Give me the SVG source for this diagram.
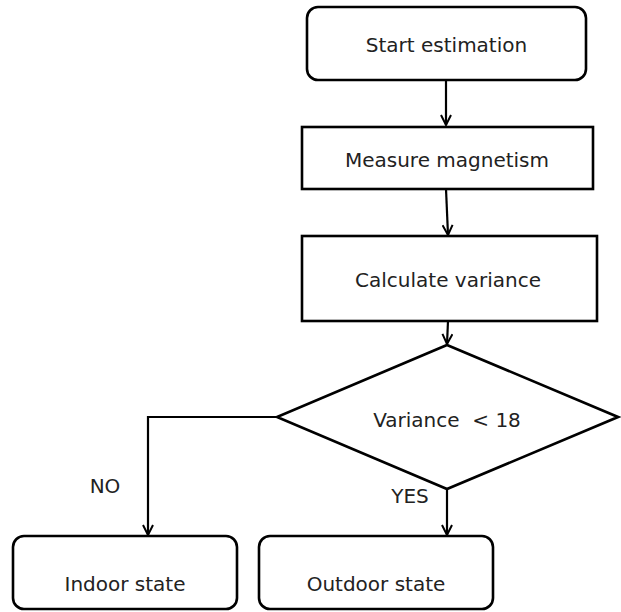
<svg xmlns="http://www.w3.org/2000/svg" width="621" height="612" viewBox="0 0 621 612">
<defs>
<style>
.box{fill:#fff;stroke:#000;stroke-width:2.6}
.lbl{font-family:"DejaVu Sans","Liberation Sans",sans-serif;font-size:20px;fill:#222;text-anchor:middle}
.con{fill:none;stroke:#000;stroke-width:2.2}
</style>
<marker id="arr" viewBox="0 0 12 12" refX="11" refY="6" markerWidth="12" markerHeight="12" markerUnits="userSpaceOnUse" orient="auto">
<path d="M1,1 L11,6 L1,11" fill="none" stroke="#000" stroke-width="2"/>
</marker>
</defs>
<rect width="621" height="612" fill="#fff"/>
<g id="connectors">
<line class="con" x1="446" y1="80" x2="446" y2="125" marker-end="url(#arr)"/>
<line class="con" x1="446" y1="189" x2="448" y2="235" marker-end="url(#arr)"/>
<line class="con" x1="448" y1="321" x2="447" y2="344" marker-end="url(#arr)"/>
<polyline class="con" points="277,417 148,417 148,535" marker-end="url(#arr)"/>
<line class="con" x1="447" y1="489" x2="447" y2="535" marker-end="url(#arr)"/>
<text class="lbl" x="105" y="493">NO</text>
<text class="lbl" x="410" y="503">YES</text>
</g>
<g id="start">
<rect class="box" x="307" y="7" width="279" height="73" rx="11"/>
<text class="lbl" x="446.5" y="52">Start estimation</text>
</g>
<g id="measure">
<rect class="box" x="302" y="127" width="291" height="62"/>
<text class="lbl" x="447" y="167">Measure magnetism</text>
</g>
<g id="calculate">
<rect class="box" x="302" y="236" width="295" height="85"/>
<text class="lbl" x="448" y="287">Calculate variance</text>
</g>
<g id="decision">
<polygon class="box" points="447,345 618,417 447,489 277,417"/>
<text class="lbl" x="447" y="427" xml:space="preserve">Variance  &lt; 18</text>
</g>
<g id="indoor">
<rect class="box" x="13" y="536" width="224" height="73" rx="11"/>
<text class="lbl" x="125" y="591">Indoor state</text>
</g>
<g id="outdoor">
<rect class="box" x="259" y="536" width="234" height="73" rx="11"/>
<text class="lbl" x="376" y="591">Outdoor state</text>
</g>
</svg>
